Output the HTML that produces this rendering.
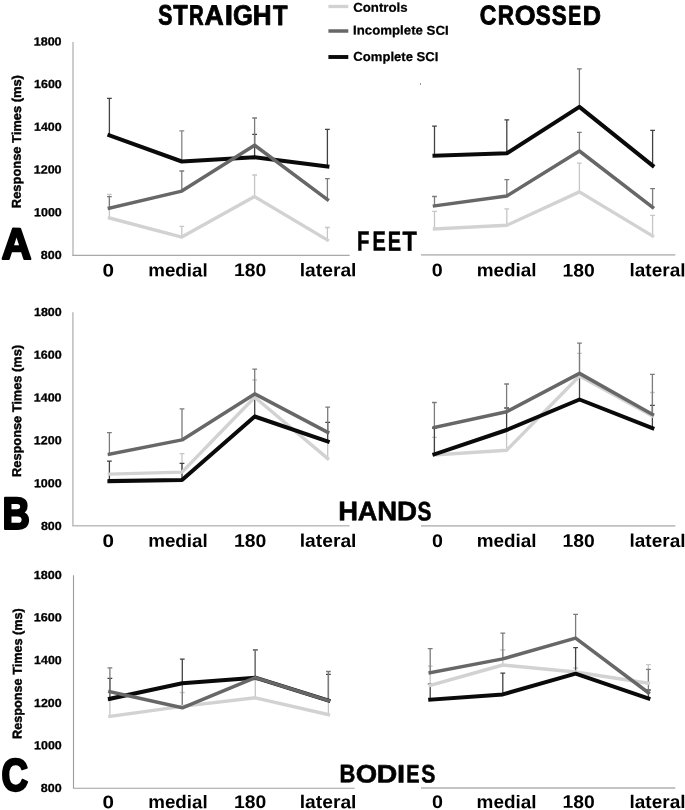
<!DOCTYPE html>
<html><head><meta charset="utf-8"><style>
html,body{margin:0;padding:0;background:#fff;width:685px;height:810px;overflow:hidden}
svg{display:block;will-change:transform}
text{font-family:"Liberation Sans",sans-serif;font-weight:bold;fill:#000;text-rendering:geometricPrecision}
</style></head><body>
<svg width="685" height="810" viewBox="0 0 685 810" font-family="Liberation Sans, sans-serif" font-weight="bold">
<text transform="matrix(1 0.003 0 1 0 -1.14126)" x="353.28" y="11.79" font-size="12.8" textLength="54.28" lengthAdjust="spacingAndGlyphs" stroke="#000" stroke-width="0.25" stroke-linejoin="round">Controls</text>
<text transform="matrix(1 0.003 0 1 0 -1.20258)" x="353.09" y="34.57" font-size="12.8" textLength="95.54" lengthAdjust="spacingAndGlyphs" stroke="#000" stroke-width="0.25" stroke-linejoin="round">Incomplete SCI</text>
<text transform="matrix(1 0.003 0 1 0 -1.18758)" x="353.36" y="61.0" font-size="12.8" textLength="85.0" lengthAdjust="spacingAndGlyphs" stroke="#000" stroke-width="0.25" stroke-linejoin="round">Complete SCI</text>
<text transform="matrix(1 0.003 0 1 0 -0.04942)" x="1.66" y="258.83" font-size="43.57" textLength="29.63" lengthAdjust="spacingAndGlyphs" stroke="#000" stroke-width="2.4" stroke-linejoin="round">A</text>
<text transform="matrix(1 0.003 0 1 0 -0.04821)" x="2.42" y="528.83" font-size="44.72" textLength="27.3" lengthAdjust="spacingAndGlyphs" stroke="#000" stroke-width="2.4" stroke-linejoin="round">B</text>
<text transform="matrix(1 0.003 0 1 0 -0.04462)" x="1.57" y="790.66" font-size="45.4" textLength="26.61" lengthAdjust="spacingAndGlyphs" stroke="#000" stroke-width="2.4" stroke-linejoin="round">C</text>
<text transform="matrix(1 0.003 0 1 0 -0.14295)" x="33.7" y="45.46" font-size="11.8" textLength="27.9" lengthAdjust="spacingAndGlyphs" stroke="#000" stroke-width="0.3" stroke-linejoin="round">1800</text>
<text transform="matrix(1 0.003 0 1 0 -0.14370)" x="34.05" y="88.12" font-size="11.8" textLength="27.7" lengthAdjust="spacingAndGlyphs" stroke="#000" stroke-width="0.3" stroke-linejoin="round">1600</text>
<text transform="matrix(1 0.003 0 1 0 -0.14337)" x="33.97" y="130.88" font-size="11.8" textLength="27.64" lengthAdjust="spacingAndGlyphs" stroke="#000" stroke-width="0.3" stroke-linejoin="round">1400</text>
<text transform="matrix(1 0.003 0 1 0 -0.14295)" x="33.7" y="173.54" font-size="11.8" textLength="27.9" lengthAdjust="spacingAndGlyphs" stroke="#000" stroke-width="0.3" stroke-linejoin="round">1200</text>
<text transform="matrix(1 0.003 0 1 0 -0.14368)" x="34.05" y="216.19" font-size="11.8" textLength="27.69" lengthAdjust="spacingAndGlyphs" stroke="#000" stroke-width="0.3" stroke-linejoin="round">1000</text>
<text transform="matrix(1 0.003 0 1 0 -0.15390)" x="40.89" y="259.01" font-size="11.8" textLength="20.82" lengthAdjust="spacingAndGlyphs" stroke="#000" stroke-width="0.3" stroke-linejoin="round">800</text>
<text transform="matrix(1 0.003 0 1 0 -0.14360)" x="34.01" y="316.07" font-size="11.8" textLength="27.71" lengthAdjust="spacingAndGlyphs" stroke="#000" stroke-width="0.3" stroke-linejoin="round">1800</text>
<text transform="matrix(1 0.003 0 1 0 -0.14346)" x="33.89" y="358.83" font-size="11.8" textLength="27.86" lengthAdjust="spacingAndGlyphs" stroke="#000" stroke-width="0.3" stroke-linejoin="round">1600</text>
<text transform="matrix(1 0.003 0 1 0 -0.14295)" x="33.7" y="401.6" font-size="11.8" textLength="27.9" lengthAdjust="spacingAndGlyphs" stroke="#000" stroke-width="0.3" stroke-linejoin="round">1400</text>
<text transform="matrix(1 0.003 0 1 0 -0.14322)" x="33.86" y="444.28" font-size="11.8" textLength="27.76" lengthAdjust="spacingAndGlyphs" stroke="#000" stroke-width="0.3" stroke-linejoin="round">1200</text>
<text transform="matrix(1 0.003 0 1 0 -0.14344)" x="33.9" y="487.23" font-size="11.8" textLength="27.83" lengthAdjust="spacingAndGlyphs" stroke="#000" stroke-width="0.3" stroke-linejoin="round">1000</text>
<text transform="matrix(1 0.003 0 1 0 -0.15385)" x="40.9" y="529.98" font-size="11.8" textLength="20.77" lengthAdjust="spacingAndGlyphs" stroke="#000" stroke-width="0.3" stroke-linejoin="round">800</text>
<text transform="matrix(1 0.003 0 1 0 -0.14317)" x="33.75" y="578.93" font-size="11.8" textLength="27.95" lengthAdjust="spacingAndGlyphs" stroke="#000" stroke-width="0.3" stroke-linejoin="round">1800</text>
<text transform="matrix(1 0.003 0 1 0 -0.14360)" x="33.84" y="621.38" font-size="11.8" textLength="28.05" lengthAdjust="spacingAndGlyphs" stroke="#000" stroke-width="0.3" stroke-linejoin="round">1600</text>
<text transform="matrix(1 0.003 0 1 0 -0.14372)" x="34.12" y="664.13" font-size="11.8" textLength="27.57" lengthAdjust="spacingAndGlyphs" stroke="#000" stroke-width="0.3" stroke-linejoin="round">1400</text>
<text transform="matrix(1 0.003 0 1 0 -0.14344)" x="34.01" y="706.93" font-size="11.8" textLength="27.61" lengthAdjust="spacingAndGlyphs" stroke="#000" stroke-width="0.3" stroke-linejoin="round">1200</text>
<text transform="matrix(1 0.003 0 1 0 -0.14366)" x="34.05" y="749.29" font-size="11.8" textLength="27.67" lengthAdjust="spacingAndGlyphs" stroke="#000" stroke-width="0.3" stroke-linejoin="round">1000</text>
<text transform="matrix(1 0.003 0 1 0 -0.15365)" x="40.82" y="791.97" font-size="11.8" textLength="20.79" lengthAdjust="spacingAndGlyphs" stroke="#000" stroke-width="0.3" stroke-linejoin="round">800</text>
<text transform="translate(20.9,208.13) rotate(-90) matrix(1 0.003 0 1 0 -0.19949)" font-size="12.8" textLength="132.99" lengthAdjust="spacingAndGlyphs" stroke="#000" stroke-width="0.45" stroke-linejoin="round">Response Times (ms)</text>
<text transform="translate(21.17,476.97) rotate(-90) matrix(1 0.003 0 1 0 -0.19801)" font-size="12.8" textLength="132.01" lengthAdjust="spacingAndGlyphs" stroke="#000" stroke-width="0.45" stroke-linejoin="round">Response Times (ms)</text>
<text transform="translate(21.81,738.94) rotate(-90) matrix(1 0.003 0 1 0 -0.19611)" font-size="12.8" textLength="130.74" lengthAdjust="spacingAndGlyphs" stroke="#000" stroke-width="0.45" stroke-linejoin="round">Response Times (ms)</text>
<text transform="matrix(1 0.003 0 1 0 -0.32448)" x="102.41" y="276.41" font-size="18.3" textLength="11.5" lengthAdjust="spacingAndGlyphs">0</text>
<text transform="matrix(1 0.003 0 1 0 -0.53388)" x="148.27" y="276.36" font-size="18.3" textLength="59.38" lengthAdjust="spacingAndGlyphs">medial</text>
<text transform="matrix(1 0.003 0 1 0 -0.75074)" x="234.13" y="276.16" font-size="18.3" textLength="32.23" lengthAdjust="spacingAndGlyphs">180</text>
<text transform="matrix(1 0.003 0 1 0 -0.98433)" x="299.79" y="276.31" font-size="18.3" textLength="56.64" lengthAdjust="spacingAndGlyphs">lateral</text>
<text transform="matrix(1 0.003 0 1 0 -1.31211)" x="431.89" y="276.21" font-size="18.3" textLength="10.96" lengthAdjust="spacingAndGlyphs">0</text>
<text transform="matrix(1 0.003 0 1 0 -1.51991)" x="476.65" y="276.26" font-size="18.3" textLength="59.97" lengthAdjust="spacingAndGlyphs">medial</text>
<text transform="matrix(1 0.003 0 1 0 -1.73608)" x="562.56" y="276.45" font-size="18.3" textLength="32.27" lengthAdjust="spacingAndGlyphs">180</text>
<text transform="matrix(1 0.003 0 1 0 -1.97246)" x="629.47" y="276.32" font-size="18.3" textLength="56.03" lengthAdjust="spacingAndGlyphs">lateral</text>
<text transform="matrix(1 0.003 0 1 0 -0.32463)" x="102.47" y="547.07" font-size="18.3" textLength="11.48" lengthAdjust="spacingAndGlyphs">0</text>
<text transform="matrix(1 0.003 0 1 0 -0.53385)" x="148.2" y="546.91" font-size="18.3" textLength="59.5" lengthAdjust="spacingAndGlyphs">medial</text>
<text transform="matrix(1 0.003 0 1 0 -0.75042)" x="233.96" y="546.89" font-size="18.3" textLength="32.36" lengthAdjust="spacingAndGlyphs">180</text>
<text transform="matrix(1 0.003 0 1 0 -0.98433)" x="299.79" y="546.86" font-size="18.3" textLength="56.64" lengthAdjust="spacingAndGlyphs">lateral</text>
<text transform="matrix(1 0.003 0 1 0 -1.31223)" x="431.94" y="546.95" font-size="18.3" textLength="10.94" lengthAdjust="spacingAndGlyphs">0</text>
<text transform="matrix(1 0.003 0 1 0 -1.52007)" x="476.76" y="546.92" font-size="18.3" textLength="59.86" lengthAdjust="spacingAndGlyphs">medial</text>
<text transform="matrix(1 0.003 0 1 0 -1.73605)" x="562.56" y="546.9" font-size="18.3" textLength="32.25" lengthAdjust="spacingAndGlyphs">180</text>
<text transform="matrix(1 0.003 0 1 0 -1.97246)" x="629.47" y="546.87" font-size="18.3" textLength="56.03" lengthAdjust="spacingAndGlyphs">lateral</text>
<text transform="matrix(1 0.003 0 1 0 -0.32459)" x="102.45" y="808.18" font-size="18.3" textLength="11.49" lengthAdjust="spacingAndGlyphs">0</text>
<text transform="matrix(1 0.003 0 1 0 -0.53394)" x="148.28" y="808.13" font-size="18.3" textLength="59.4" lengthAdjust="spacingAndGlyphs">medial</text>
<text transform="matrix(1 0.003 0 1 0 -0.75075)" x="234.13" y="808.04" font-size="18.3" textLength="32.24" lengthAdjust="spacingAndGlyphs">180</text>
<text transform="matrix(1 0.003 0 1 0 -0.98433)" x="299.79" y="808.11" font-size="18.3" textLength="56.64" lengthAdjust="spacingAndGlyphs">lateral</text>
<text transform="matrix(1 0.003 0 1 0 -1.31220)" x="431.92" y="807.98" font-size="18.3" textLength="10.96" lengthAdjust="spacingAndGlyphs">0</text>
<text transform="matrix(1 0.003 0 1 0 -1.51986)" x="476.62" y="808.14" font-size="18.3" textLength="60.0" lengthAdjust="spacingAndGlyphs">medial</text>
<text transform="matrix(1 0.003 0 1 0 -1.73608)" x="562.56" y="807.92" font-size="18.3" textLength="32.27" lengthAdjust="spacingAndGlyphs">180</text>
<text transform="matrix(1 0.003 0 1 0 -1.97246)" x="629.47" y="808.0" font-size="18.3" textLength="56.03" lengthAdjust="spacingAndGlyphs">lateral</text>
<text transform="matrix(1 0.003 0 1 0 -0.6693)" y="24.7250143702141" font-size="28.085777474640548" stroke="#000" stroke-width="0.9" stroke-linejoin="round"><tspan x="158.34" textLength="14.14" lengthAdjust="spacingAndGlyphs">S</tspan><tspan x="173.18" textLength="14.42" lengthAdjust="spacingAndGlyphs">T</tspan><tspan x="189.09" textLength="14.68" lengthAdjust="spacingAndGlyphs">R</tspan><tspan x="204.59" textLength="19.27" lengthAdjust="spacingAndGlyphs">A</tspan><tspan x="224.75" textLength="8.29" lengthAdjust="spacingAndGlyphs">I</tspan><tspan x="233.10" textLength="19.83" lengthAdjust="spacingAndGlyphs">G</tspan><tspan x="252.71" textLength="18.79" lengthAdjust="spacingAndGlyphs">H</tspan><tspan x="272.98" textLength="14.52" lengthAdjust="spacingAndGlyphs">T</tspan></text>
<text transform="matrix(1 0.003 0 1 0 -1.6209)" y="24.513535243628205" font-size="26.860314375650702" stroke="#000" stroke-width="0.9" stroke-linejoin="round"><tspan x="479.71" textLength="16.57" lengthAdjust="spacingAndGlyphs">C</tspan><tspan x="497.64" textLength="16.27" lengthAdjust="spacingAndGlyphs">R</tspan><tspan x="514.65" textLength="20.82" lengthAdjust="spacingAndGlyphs">O</tspan><tspan x="535.81" textLength="14.92" lengthAdjust="spacingAndGlyphs">S</tspan><tspan x="551.71" textLength="14.92" lengthAdjust="spacingAndGlyphs">S</tspan><tspan x="568.35" textLength="12.96" lengthAdjust="spacingAndGlyphs">E</tspan><tspan x="582.76" textLength="18.25" lengthAdjust="spacingAndGlyphs">D</tspan></text>
<text transform="matrix(1 0.003 0 1 0 -1.1625)" y="250.63906520551885" font-size="27.659717713855443" stroke="#000" stroke-width="0.5" stroke-linejoin="round"><tspan x="356.99" textLength="12.40" lengthAdjust="spacingAndGlyphs">F</tspan><tspan x="372.41" textLength="13.32" lengthAdjust="spacingAndGlyphs">E</tspan><tspan x="387.71" textLength="13.32" lengthAdjust="spacingAndGlyphs">E</tspan><tspan x="402.59" textLength="14.31" lengthAdjust="spacingAndGlyphs">T</tspan></text>
<text transform="matrix(1 0.003 0 1 0 -1.1562)" y="520.3032832234803" font-size="26.81586445213579" stroke="#000" stroke-width="0.6" stroke-linejoin="round"><tspan x="338.27" textLength="19.78" lengthAdjust="spacingAndGlyphs">H</tspan><tspan x="357.82" textLength="19.59" lengthAdjust="spacingAndGlyphs">A</tspan><tspan x="377.26" textLength="19.90" lengthAdjust="spacingAndGlyphs">N</tspan><tspan x="397.05" textLength="20.02" lengthAdjust="spacingAndGlyphs">D</tspan><tspan x="417.60" textLength="13.92" lengthAdjust="spacingAndGlyphs">S</tspan></text>
<text transform="matrix(1 0.003 0 1 0 -1.1633)" y="782.5250947821401" font-size="25.280797564181988" stroke="#000" stroke-width="0.6" stroke-linejoin="round"><tspan x="339.53" textLength="15.87" lengthAdjust="spacingAndGlyphs">B</tspan><tspan x="355.67" textLength="21.38" lengthAdjust="spacingAndGlyphs">O</tspan><tspan x="376.70" textLength="20.49" lengthAdjust="spacingAndGlyphs">D</tspan><tspan x="397.05" textLength="8.10" lengthAdjust="spacingAndGlyphs">I</tspan><tspan x="406.26" textLength="13.32" lengthAdjust="spacingAndGlyphs">E</tspan><tspan x="421.19" textLength="14.14" lengthAdjust="spacingAndGlyphs">S</tspan></text>
<line x1="328.4" y1="6.5" x2="348.3" y2="6.5" stroke="#d2d2d2" stroke-width="3.3"/>
<line x1="328.4" y1="31" x2="348.3" y2="31" stroke="#676767" stroke-width="3.5"/>
<line x1="328.4" y1="57" x2="348.3" y2="57" stroke="#0a0a0a" stroke-width="3.9"/>
<line x1="73.0" y1="42.0" x2="73.0" y2="255.4" stroke="#bcbcbc" stroke-width="1.5"/>
<line x1="72.25" y1="255.4" x2="349.7" y2="255.4" stroke="#a8a8a8" stroke-width="1.1"/>
<line x1="421" y1="254.9" x2="675.3" y2="254.9" stroke="#c0c0c0" stroke-width="1.7"/>
<line x1="72.9" y1="312.2" x2="72.9" y2="525.8" stroke="#c0c0c0" stroke-width="1.6"/>
<line x1="72.10000000000001" y1="525.8" x2="349.6" y2="525.8" stroke="#bdbdbd" stroke-width="1.6"/>
<line x1="421" y1="525.8" x2="675.3" y2="525.8" stroke="#c0c0c0" stroke-width="1.7"/>
<line x1="73.5" y1="575.3" x2="73.5" y2="788.3" stroke="#9c9c9c" stroke-width="1.1"/>
<line x1="72.95" y1="788.3" x2="354.7" y2="788.3" stroke="#a0a0a0" stroke-width="1.1"/>
<line x1="421" y1="788.0" x2="675.3" y2="788.0" stroke="#b0b0b0" stroke-width="1.4"/>
<path d="M109.4 218V194.3M107.0 194.3H111.80000000000001" stroke="#c6c6c6" stroke-width="1.3" fill="none"/>
<path d="M181.8 237.1V226.3M179.4 226.3H184.20000000000002" stroke="#c6c6c6" stroke-width="1.3" fill="none"/>
<path d="M254.6 196.6V175M252.2 175H257.0" stroke="#c6c6c6" stroke-width="1.3" fill="none"/>
<path d="M327.4 240V227.5M325.0 227.5H329.79999999999995" stroke="#c6c6c6" stroke-width="1.3" fill="none"/>
<path d="M109.4 135.4V98.3M107.0 98.3H111.80000000000001" stroke="#424242" stroke-width="1.3" fill="none"/>
<path d="M181.8 161.5V130.9M179.4 130.9H184.20000000000002" stroke="#868686" stroke-width="1.3" fill="none"/>
<path d="M254.6 157.2V134.4M252.2 134.4H257.0" stroke="#424242" stroke-width="1.3" fill="none"/>
<path d="M327.4 166.6V129.4M325.0 129.4H329.79999999999995" stroke="#424242" stroke-width="1.3" fill="none"/>
<path d="M109.4 208.1V196.6M107.0 196.6H111.80000000000001" stroke="#7c7c7c" stroke-width="1.3" fill="none"/>
<path d="M181.8 191.1V171M179.4 171H184.20000000000002" stroke="#7c7c7c" stroke-width="1.3" fill="none"/>
<path d="M254.6 145.2V118M252.2 118H257.0" stroke="#7c7c7c" stroke-width="1.3" fill="none"/>
<path d="M327.4 199.5V178.7M325.0 178.7H329.79999999999995" stroke="#7c7c7c" stroke-width="1.3" fill="none"/>
<polyline points="109.4,218 181.8,237.1 254.6,196.6 327.4,240" stroke="#d2d2d2" stroke-width="3.4" fill="none" stroke-linejoin="round" stroke-linecap="square"/>
<polyline points="109.4,135.4 181.8,161.5 254.6,157.2 327.4,166.6" stroke="#0a0a0a" stroke-width="4.0" fill="none" stroke-linejoin="round" stroke-linecap="square"/>
<polyline points="109.4,208.1 181.8,191.1 254.6,145.2 327.4,199.5" stroke="#676767" stroke-width="3.5" fill="none" stroke-linejoin="round" stroke-linecap="square"/>
<path d="M434.5 228.9V211.3M432.1 211.3H436.9" stroke="#c6c6c6" stroke-width="1.3" fill="none"/>
<path d="M506.8 225.3V208.9M504.40000000000003 208.9H509.2" stroke="#c6c6c6" stroke-width="1.3" fill="none"/>
<path d="M579.4 191.9V163.2M577.0 163.2H581.8" stroke="#c6c6c6" stroke-width="1.3" fill="none"/>
<path d="M652.6 236V215.3M650.2 215.3H655.0" stroke="#c6c6c6" stroke-width="1.3" fill="none"/>
<path d="M434.5 155.7V126.1M432.1 126.1H436.9" stroke="#424242" stroke-width="1.3" fill="none"/>
<path d="M506.8 153.3V119.8M504.40000000000003 119.8H509.2" stroke="#424242" stroke-width="1.3" fill="none"/>
<path d="M579.4 106.9V68.9M577.0 68.9H581.8" stroke="#747474" stroke-width="1.3" fill="none"/>
<path d="M652.6 165.6V130.4M650.2 130.4H655.0" stroke="#424242" stroke-width="1.3" fill="none"/>
<path d="M434.5 205.9V196.5M432.1 196.5H436.9" stroke="#7c7c7c" stroke-width="1.3" fill="none"/>
<path d="M506.8 196V179.6M504.40000000000003 179.6H509.2" stroke="#7c7c7c" stroke-width="1.3" fill="none"/>
<path d="M579.4 151V132.3M577.0 132.3H581.8" stroke="#7c7c7c" stroke-width="1.3" fill="none"/>
<path d="M652.6 207.3V188.6M650.2 188.6H655.0" stroke="#7c7c7c" stroke-width="1.3" fill="none"/>
<polyline points="434.5,228.9 506.8,225.3 579.4,191.9 652.6,236" stroke="#d2d2d2" stroke-width="3.4" fill="none" stroke-linejoin="round" stroke-linecap="square"/>
<polyline points="434.5,155.7 506.8,153.3 579.4,106.9 652.6,165.6" stroke="#0a0a0a" stroke-width="4.0" fill="none" stroke-linejoin="round" stroke-linecap="square"/>
<polyline points="434.5,205.9 506.8,196 579.4,151 652.6,207.3" stroke="#676767" stroke-width="3.5" fill="none" stroke-linejoin="round" stroke-linecap="square"/>
<path d="M182 472.1V453.7M179.6 453.7H184.4" stroke="#c6c6c6" stroke-width="1.3" fill="none"/>
<path d="M254.7 397.2V380M252.29999999999998 380H257.09999999999997" stroke="#c6c6c6" stroke-width="1.3" fill="none"/>
<path d="M327.7 458.5V441M325.3 441H330.09999999999997" stroke="#c6c6c6" stroke-width="1.3" fill="none"/>
<path d="M109.4 481.1V461.2M107.0 461.2H111.80000000000001" stroke="#424242" stroke-width="1.3" fill="none"/>
<path d="M182 479.9V463.4M179.6 463.4H184.4" stroke="#424242" stroke-width="1.3" fill="none"/>
<path d="M254.7 416.5V395M252.29999999999998 395H257.09999999999997" stroke="#424242" stroke-width="1.3" fill="none"/>
<path d="M327.7 441.5V422.4M325.3 422.4H330.09999999999997" stroke="#424242" stroke-width="1.3" fill="none"/>
<path d="M109.4 454.3V432.6M107.0 432.6H111.80000000000001" stroke="#7c7c7c" stroke-width="1.3" fill="none"/>
<path d="M182 439.9V408.8M179.6 408.8H184.4" stroke="#7c7c7c" stroke-width="1.3" fill="none"/>
<path d="M254.7 393.9V369.2M252.29999999999998 369.2H257.09999999999997" stroke="#7c7c7c" stroke-width="1.3" fill="none"/>
<path d="M327.7 432.3V407.1M325.3 407.1H330.09999999999997" stroke="#7c7c7c" stroke-width="1.3" fill="none"/>
<polyline points="109.4,474.1 182,472.1 254.7,397.2 327.7,458.5" stroke="#d2d2d2" stroke-width="3.4" fill="none" stroke-linejoin="round" stroke-linecap="square"/>
<polyline points="109.4,481.1 182,479.9 254.7,416.5 327.7,441.5" stroke="#0a0a0a" stroke-width="4.0" fill="none" stroke-linejoin="round" stroke-linecap="square"/>
<polyline points="109.4,454.3 182,439.9 254.7,393.9 327.7,432.3" stroke="#676767" stroke-width="3.5" fill="none" stroke-linejoin="round" stroke-linecap="square"/>
<path d="M434.4 454.9V437.3M432.0 437.3H436.79999999999995" stroke="#c6c6c6" stroke-width="1.3" fill="none"/>
<path d="M506.6 450.3V431M504.20000000000005 431H509.0" stroke="#c6c6c6" stroke-width="1.3" fill="none"/>
<path d="M579.5 376V353.4M577.1 353.4H581.9" stroke="#c6c6c6" stroke-width="1.3" fill="none"/>
<path d="M652.4 416V392.5M650.0 392.5H654.8" stroke="#c6c6c6" stroke-width="1.3" fill="none"/>
<path d="M434.4 454.3V428M432.0 428H436.79999999999995" stroke="#424242" stroke-width="1.3" fill="none"/>
<path d="M506.6 430V408M504.20000000000005 408H509.0" stroke="#424242" stroke-width="1.3" fill="none"/>
<path d="M579.5 399.5V376M577.1 376H581.9" stroke="#424242" stroke-width="1.3" fill="none"/>
<path d="M652.4 428.2V405.4M650.0 405.4H654.8" stroke="#424242" stroke-width="1.3" fill="none"/>
<path d="M434.4 427.4V402.5M432.0 402.5H436.79999999999995" stroke="#7c7c7c" stroke-width="1.3" fill="none"/>
<path d="M506.6 411.8V384M504.20000000000005 384H509.0" stroke="#7c7c7c" stroke-width="1.3" fill="none"/>
<path d="M579.5 373.4V343.1M577.1 343.1H581.9" stroke="#7c7c7c" stroke-width="1.3" fill="none"/>
<path d="M652.4 414.4V374.3M650.0 374.3H654.8" stroke="#7c7c7c" stroke-width="1.3" fill="none"/>
<polyline points="434.4,454.9 506.6,450.3 579.5,376 652.4,416" stroke="#d2d2d2" stroke-width="3.4" fill="none" stroke-linejoin="round" stroke-linecap="square"/>
<polyline points="434.4,454.3 506.6,430 579.5,399.5 652.4,428.2" stroke="#0a0a0a" stroke-width="4.0" fill="none" stroke-linejoin="round" stroke-linecap="square"/>
<polyline points="434.4,427.4 506.6,411.8 579.5,373.4 652.4,414.4" stroke="#676767" stroke-width="3.5" fill="none" stroke-linejoin="round" stroke-linecap="square"/>
<path d="M109.9 716.4V700M107.5 700H112.30000000000001" stroke="#c6c6c6" stroke-width="1.3" fill="none"/>
<path d="M182.3 706.4V692.5M179.9 692.5H184.70000000000002" stroke="#c6c6c6" stroke-width="1.3" fill="none"/>
<path d="M255.3 697.8V680M252.9 680H257.7" stroke="#c6c6c6" stroke-width="1.3" fill="none"/>
<path d="M328.4 714.6V700M326.0 700H330.79999999999995" stroke="#c6c6c6" stroke-width="1.3" fill="none"/>
<path d="M109.9 698.8V678.3M107.5 678.3H112.30000000000001" stroke="#424242" stroke-width="1.3" fill="none"/>
<path d="M182.3 683.3V659.2M179.9 659.2H184.70000000000002" stroke="#424242" stroke-width="1.3" fill="none"/>
<path d="M255.3 677.7V649.8M252.9 649.8H257.7" stroke="#424242" stroke-width="1.3" fill="none"/>
<path d="M328.4 700.6V674.4M326.0 674.4H330.79999999999995" stroke="#424242" stroke-width="1.3" fill="none"/>
<path d="M109.9 691.6V667.8M107.5 667.8H112.30000000000001" stroke="#7c7c7c" stroke-width="1.3" fill="none"/>
<path d="M182.3 707.8V683.3M179.9 683.3H184.70000000000002" stroke="#7c7c7c" stroke-width="1.3" fill="none"/>
<path d="M255.3 677.7V649.8M252.9 649.8H257.7" stroke="#7c7c7c" stroke-width="1.3" fill="none"/>
<path d="M328.4 700.6V671.5M326.0 671.5H330.79999999999995" stroke="#7c7c7c" stroke-width="1.3" fill="none"/>
<polyline points="109.9,716.4 182.3,706.4 255.3,697.8 328.4,714.6" stroke="#d2d2d2" stroke-width="3.4" fill="none" stroke-linejoin="round" stroke-linecap="square"/>
<polyline points="109.9,698.8 182.3,683.3 255.3,677.7 328.4,700.6" stroke="#0a0a0a" stroke-width="4.0" fill="none" stroke-linejoin="round" stroke-linecap="square"/>
<polyline points="109.9,691.6 182.3,707.8 255.3,677.7 328.4,700.6" stroke="#676767" stroke-width="3.5" fill="none" stroke-linejoin="round" stroke-linecap="square"/>
<path d="M430.2 685.4V666.1M427.8 666.1H432.59999999999997" stroke="#c6c6c6" stroke-width="1.3" fill="none"/>
<path d="M502.8 665V650M500.40000000000003 650H505.2" stroke="#c6c6c6" stroke-width="1.3" fill="none"/>
<path d="M575.6 672V668M573.2 668H578.0" stroke="#c6c6c6" stroke-width="1.3" fill="none"/>
<path d="M648.4 683.2V664.6M646.0 664.6H650.8" stroke="#c6c6c6" stroke-width="1.3" fill="none"/>
<path d="M430.2 699.7V684.2M427.8 684.2H432.59999999999997" stroke="#424242" stroke-width="1.3" fill="none"/>
<path d="M502.8 694.4V673.2M500.40000000000003 673.2H505.2" stroke="#424242" stroke-width="1.3" fill="none"/>
<path d="M575.6 673.7V647.6M573.2 647.6H578.0" stroke="#424242" stroke-width="1.3" fill="none"/>
<path d="M648.4 698.4V690M646.0 690H650.8" stroke="#424242" stroke-width="1.3" fill="none"/>
<path d="M430.2 672.6V648.6M427.8 648.6H432.59999999999997" stroke="#7c7c7c" stroke-width="1.3" fill="none"/>
<path d="M502.8 658.9V633.1M500.40000000000003 633.1H505.2" stroke="#7c7c7c" stroke-width="1.3" fill="none"/>
<path d="M575.6 638.1V614.4M573.2 614.4H578.0" stroke="#7c7c7c" stroke-width="1.3" fill="none"/>
<path d="M648.4 692.7V669.4M646.0 669.4H650.8" stroke="#7c7c7c" stroke-width="1.3" fill="none"/>
<polyline points="430.2,685.4 502.8,665 575.6,672 648.4,683.2" stroke="#d2d2d2" stroke-width="3.4" fill="none" stroke-linejoin="round" stroke-linecap="square"/>
<polyline points="430.2,699.7 502.8,694.4 575.6,673.7 648.4,698.4" stroke="#0a0a0a" stroke-width="4.0" fill="none" stroke-linejoin="round" stroke-linecap="square"/>
<polyline points="430.2,672.6 502.8,658.9 575.6,638.1 648.4,692.7" stroke="#676767" stroke-width="3.5" fill="none" stroke-linejoin="round" stroke-linecap="square"/>
<rect x="420" y="83" width="1" height="2" fill="#999"/>
</svg>
</body></html>
